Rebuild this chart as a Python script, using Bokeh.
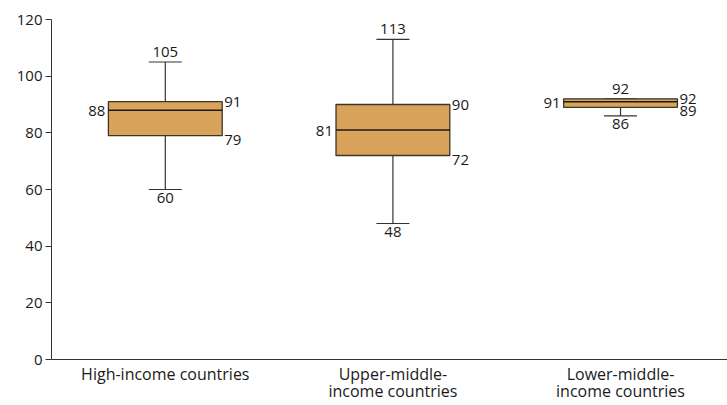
from bokeh.plotting import figure
from bokeh.models import ColumnDataSource, FixedTicker
from bokeh.core.properties import value
from bokeh.embed import file_html
from bokeh.resources import INLINE

# Data
categories = ["High-income countries", "Upper-middle-\nincome countries", "Lower-middle-\nincome countries"]
x_pos = [0.5, 1.5, 2.5]
lower = [60, 48, 86]
q1 = [79, 72, 89]
median = [88, 81, 91]
q3 = [91, 90, 92]
upper = [105, 113, 92]
y_ticks = [0, 20, 40, 60, 80, 100, 120]

FONT = "Open Sans"
TXT = "#1a1a1a"
BOX = "#D9A35B"

box_w = 0.5
cap_w = 0.145

p = figure(width=727, height=405, output_backend="svg", toolbar_location=None,
           x_range=(0, 2.97), y_range=(0, 120),
           min_border_left=51, min_border_top=19, min_border_bottom=45, min_border_right=0)
p.outline_line_color = None
p.grid.grid_line_color = None
p.background_fill_color = "white"
p.border_fill_color = "white"

src = ColumnDataSource(dict(x=x_pos, lower=lower, q1=q1, median=median, q3=q3, upper=upper,
                            xl=[x - box_w / 2 for x in x_pos], xr=[x + box_w / 2 for x in x_pos],
                            cl=[x - cap_w / 2 for x in x_pos], cr=[x + cap_w / 2 for x in x_pos],
                            lo_s=[str(v) for v in lower], q1_s=[str(v) for v in q1],
                            med_s=[str(v) for v in median], q3_s=[str(v) for v in q3],
                            up_s=[str(v) for v in upper]))

# whiskers
p.segment(x0="x", y0="q3", x1="x", y1="upper", source=src, line_color="#333333", line_width=1.2)
p.segment(x0="x", y0="lower", x1="x", y1="q1", source=src, line_color="#333333", line_width=1.2)
p.segment(x0="cl", y0="upper", x1="cr", y1="upper", source=src, line_color="#333333", line_width=1.2)
p.segment(x0="cl", y0="lower", x1="cr", y1="lower", source=src, line_color="#333333", line_width=1.2)
# boxes
p.quad(left="xl", right="xr", bottom="q1", top="q3", source=src, fill_color=BOX,
       line_color="#3d3528", line_width=1.3)
p.segment(x0="xl", y0="median", x1="xr", y1="median", source=src, line_color="#1a1a1a", line_width=1.5)

common = dict(source=src, text_font=value(FONT), text_font_size="15px", text_color=TXT)
p.text(x="x", y="upper", text="up_s", text_align="center", text_baseline="bottom", y_offset=-5, **common)
p.text(x="x", y="lower", text="lo_s", text_align="center", text_baseline="top", y_offset=3, **common)
p.text(x="xl", y="median", text="med_s", text_align="right", text_baseline="middle", x_offset=-3, y_offset=1, **common)
p.text(x="xr", y="q3", text="q3_s", text_align="left", text_baseline="middle", x_offset=2, **common)
p.text(x="xr", y="q1", text="q1_s", text_align="left", text_baseline="middle", x_offset=2, y_offset=4, **common)

# axes
p.yaxis.ticker = FixedTicker(ticks=y_ticks)
p.yaxis.axis_line_color = "#333333"
p.yaxis.major_tick_line_color = "#333333"
p.yaxis.major_tick_out = 6
p.yaxis.major_tick_in = 0
p.yaxis.minor_tick_line_color = None
p.yaxis.major_label_text_font = FONT
p.yaxis.major_label_text_font_size = "15px"
p.yaxis.major_label_text_color = TXT
p.yaxis.major_label_standoff = 3

p.xaxis.ticker = FixedTicker(ticks=x_pos)
p.xaxis.major_label_overrides = {x: c for x, c in zip(x_pos, categories)}
p.xaxis.axis_line_color = "#333333"
p.xaxis.major_tick_line_color = None
p.xaxis.minor_tick_line_color = None
p.xaxis.major_label_text_font = FONT
p.xaxis.major_label_text_font_size = "16px"
p.xaxis.major_label_text_color = TXT
p.xaxis.major_label_standoff = -3
p.xaxis.major_label_text_line_height = 0.8

open("out.html", "w").write(file_html(p, INLINE))
